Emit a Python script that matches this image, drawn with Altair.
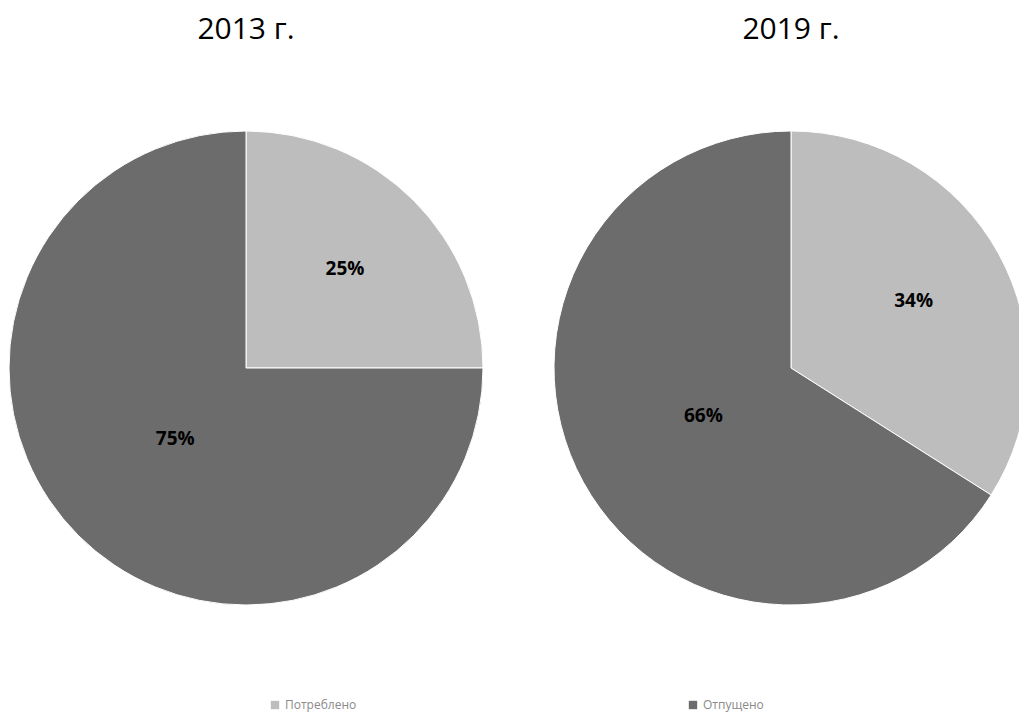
import altair as alt
import pandas as pd
import math

years = ["2013 г.", "2019 г."]
categories = ["Потреблено", "Отпущено"]
shares_2013 = [25, 75]
shares_2019 = [34, 66]
labels_2013 = ["25%", "75%"]
labels_2019 = ["34%", "66%"]

rows = []
for year, shares, labs in [(years[0], shares_2013, labels_2013), (years[1], shares_2019, labels_2019)]:
    for i, (cat, val, lab) in enumerate(zip(categories, shares, labs)):
        rows.append({"year": year, "category": cat, "value": val, "idx": i, "label": lab})
df = pd.DataFrame(rows)
titles = pd.DataFrame({"year": years})

W, H = 1011, 706
CY = 360
R = 237
centers = {years[0]: 238, years[1]: 783}
label_radius = {categories[0]: 140, categories[1]: 100}

color = alt.Color(
    "category:N",
    scale=alt.Scale(domain=categories, range=["#bdbdbd", "#6c6c6c"]),
    legend=alt.Legend(
        title=None,
        orient="none",
        legendX=261,
        legendY=691,
        direction="horizontal",
        symbolType="square",
        symbolSize=70,
        symbolStrokeWidth=0,
        labelFont="Open Sans",
        labelFontSize=12,
        labelColor="#8a8a8a",
        columnPadding=330,
    ),
)

layers = []
for year in years:
    cx = centers[year]
    base = alt.Chart(df).transform_filter(alt.datum.year == year)
    arc = base.mark_arc(outerRadius=R, stroke="white", strokeWidth=1).encode(
        theta=alt.Theta("value:Q", stack=True),
        color=color,
        order=alt.Order("idx:Q"),
        x=alt.value(cx),
        y=alt.value(CY),
    )
    layers.append(arc)
    for cat in categories:
        txt = (
            base.transform_joinaggregate(total="sum(value)")
            .transform_window(cum="sum(value)", sort=[alt.SortField("idx")])
            .transform_calculate(mid="(datum.cum - datum.value / 2) / datum.total")
            .transform_filter(alt.datum.category == cat)
            .mark_text(font="Open Sans", fontSize=19, fontWeight="bold", color="black",
                       radius=label_radius[cat])
            .encode(
                theta=alt.Theta("mid:Q", stack=None,
                                scale=alt.Scale(domain=[0, 1], range=[0, 2 * math.pi])),
                text="label:N",
                x=alt.value(cx),
                y=alt.value(CY),
            )
        )
        layers.append(txt)
    title = alt.Chart(titles).transform_filter(alt.datum.year == year).mark_text(
        font="Open Sans", fontSize=30, color="black", baseline="middle"
    ).encode(text="year:N", x=alt.value(cx), y=alt.value(22))
    layers.append(title)

chart = alt.layer(*layers).resolve_scale(theta="independent").properties(
    width=W,
    height=H,
    autosize=alt.AutoSizeParams(type="none"),
    padding=0,
).configure_view(stroke=None)

chart.save("out.html", embed_options={"renderer": "svg", "actions": False})
